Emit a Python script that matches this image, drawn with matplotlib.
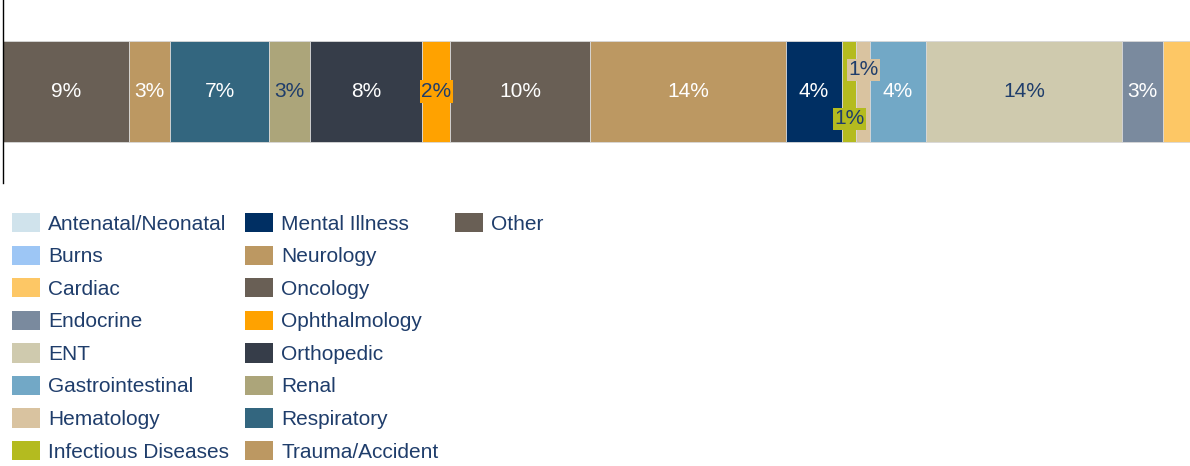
import matplotlib as mpl; mpl.use("Agg")
import matplotlib.pyplot as plt
from matplotlib.patches import Patch

# categories in legend order (bar is drawn in reverse: Other first)
categories = ["Antenatal/Neonatal", "Burns", "Cardiac", "Endocrine", "ENT", "Gastrointestinal",
              "Hematology", "Infectious Diseases", "Mental Illness", "Neurology", "Oncology",
              "Ophthalmology", "Orthopedic", "Renal", "Respiratory", "Trauma/Accident", "Other"]
shares = [5.2, 3.0, 9.0, 2.9, 14.05, 3.95, 1.0, 1.0, 4.05, 13.95, 10.0,
          2.0, 8.0, 2.95, 7.05, 2.95, 9.0]
colors = ["#d0e3ec", "#9dc6f5", "#fdc765", "#7a8a9e", "#cfcaae", "#72a8c6",
          "#d9c3a0", "#b4bb1f", "#002f63", "#bc9862", "#695f55",
          "#ffa200", "#363d49", "#aca57a", "#33667f", "#bc9862", "#695f55"]
dark_text = {"ENT", "Hematology", "Infectious Diseases", "Ophthalmology", "Renal"}
NAVY = "#1f3d6b"
XMAX = 1187/14.0   # the visible part of the bar (chart is cropped on the right)

mpl.rcParams.update({"font.family": ["Liberation Sans", "DejaVu Sans"]})

fig = plt.figure(figsize=(11.9, 4.66), dpi=100)
ax = fig.add_axes([3/1190, 1-183/466, 1187/1190, 183/466])

left = 0.0
for cat, v, c in reversed(list(zip(categories, shares, colors))):
    ax.barh(0, v, left=left, height=0.552, color=c, edgecolor="#d8d8d8", linewidth=0.6)
    cx = left + v/2
    left += v
    if cx > XMAX:
        continue
    tc = NAVY if cat in dark_text else "white"
    dy = 0.0; box = None
    if cat == "Hematology": dy = 0.118
    if cat == "Infectious Diseases": dy = -0.15
    if v < 2.5:
        box = dict(boxstyle="square,pad=0.08", fc=c, ec="none")
    ax.text(cx, dy, f"{round(v)}%", ha="center", va="center", fontsize=15,
            color=tc, bbox=box)

ax.set_xlim(0, XMAX)
ax.set_ylim(-0.5, 0.5)
ax.set_xticks([]); ax.set_yticks([])
for s in ["top", "right", "bottom"]:
    ax.spines[s].set_visible(False)
ax.spines["left"].set_linewidth(1.0)

# legend: 3 columns of 8, 8, 1
handles = [Patch(facecolor=c, edgecolor="none", label=cat) for cat, c in zip(categories, colors)]
blank = [Patch(visible=False, label="") for _ in range(7)]
fig.legend(handles=handles + blank, ncol=3, loc="upper left",
           bbox_to_anchor=(12/1190, 1-213/466), frameon=False, fontsize=15.05,
           handlelength=1.34, handleheight=1.05, handletextpad=0.38,
           labelspacing=0.56, columnspacing=0.78, borderpad=0, borderaxespad=0,
           labelcolor=NAVY)

fig.savefig("out.png", dpi=100, facecolor="white")
